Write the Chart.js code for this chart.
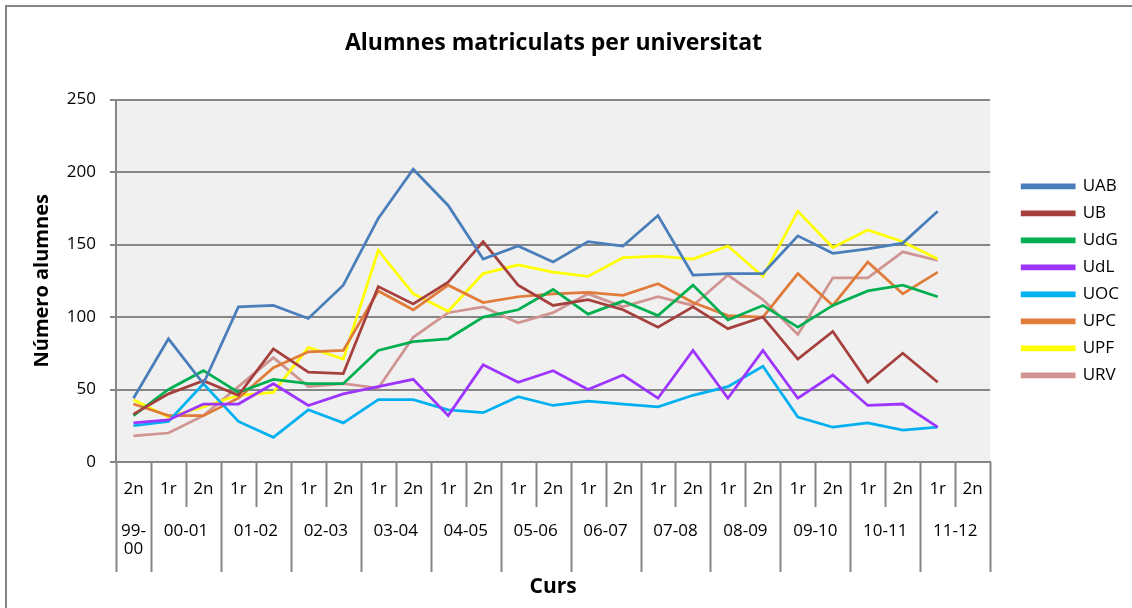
<!DOCTYPE html>
<html>
<head>
<meta charset="utf-8">
<script src="https://cdn.jsdelivr.net/npm/chart.js@4"></script>
<style>
  html, body { margin: 0; padding: 0; background: #fff; }
  #wrap { position: relative; width: 1132px; height: 608px; }
</style>
</head>
<body>
<div id="wrap"><canvas id="chart" width="1132" height="608"></canvas></div>
<script>
// --- data ---
const terms = ['2n', '1r', '2n', '1r', '2n', '1r', '2n', '1r', '2n', '1r', '2n', '1r', '2n',
               '1r', '2n', '1r', '2n', '1r', '2n', '1r', '2n', '1r', '2n', '1r', '2n'];
const courses = ['99-00', '00-01', '01-02', '02-03', '03-04', '04-05', '05-06',
                 '06-07', '07-08', '08-09', '09-10', '10-11', '11-12'];
const yTicks = [0, 50, 100, 150, 200, 250];

const uab = [44, 85, 54, 107, 108, 99, 122, 168, 202, 177, 140, 149, 138, 152, 149, 170, 129, 130, 130, 156, 144, 147, 151, 173, null];
const ub  = [33, 47, 56, 46, 78, 62, 61, 121, 109, 124, 152, 122, 108, 112, 105, 93, 107, 92, 100, 71, 90, 55, 75, 55, null];
const udg = [32, 50, 63, 48, 57, 54, 54, 77, 83, 85, 100, 105, 119, 102, 111, 101, 122, 98, 108, 93, 108, 118, 122, 114, null];
const udl = [27, 29, 40, 40, 54, 39, 47, 52, 57, 32, 67, 55, 63, 50, 60, 44, 77, 44, 77, 44, 60, 39, 40, 24, null];
const uoc = [25, 28, 54, 28, 17, 36, 27, 43, 43, 36, 34, 45, 39, 42, 40, 38, 46, 52, 66, 31, 24, 27, 22, 24, null];
const upc = [40, 32, 32, 44, 65, 76, 77, 118, 105, 122, 110, 114, 116, 117, 115, 123, 110, 101, 100, 130, 108, 138, 116, 131, null];
const upf = [43, 31, 38, 46, 48, 79, 71, 146, 116, 104, 130, 136, 131, 128, 141, 142, 140, 149, 128, 173, 148, 160, 152, 140, null];
const urv = [18, 20, 32, 52, 72, 52, 54, 51, 86, 103, 107, 96, 103, 116, 107, 114, 108, 129, 112, 88, 127, 127, 145, 139, null];

const FONT = "'Open Sans', 'Liberation Sans', sans-serif";

function series(label, data, color) {
    return {
        label: label,
        data: data,
        borderColor: color,
        backgroundColor: color,
        borderWidth: 2.75,
        pointRadius: 0,
        tension: 0,
        spanGaps: false
    };
}

// draws the two-row category axis (term / course) and the frame
const categoryAxis = {
    id: 'categoryAxis',
    afterLayout(chart) {
        // legend sits a bit further away from the plot than Chart.js puts it
        chart.legend.left += 22;
        chart.legend.right += 22;
    },
    beforeDraw(chart) {
        const { ctx, chartArea: a } = chart;
        ctx.save();
        ctx.fillStyle = '#f0f0f0';
        ctx.fillRect(a.left, a.top, a.right - a.left, a.bottom - a.top);
        // outer frame (top + left only, image is cropped)
        ctx.strokeStyle = '#868686';
        ctx.lineWidth = 2;
        ctx.beginPath();
        ctx.moveTo(6, 608);
        ctx.lineTo(6, 6);
        ctx.lineTo(1132, 6);
        ctx.stroke();
        ctx.restore();
    },
    afterDraw(chart) {
        const { ctx, chartArea: a } = chart;
        const x = chart.scales.x;
        const n = terms.length;
        const bound = (i) => {
            if (i <= 0) return a.left;
            if (i >= n) return a.right;
            return (x.getPixelForValue(i - 1) + x.getPixelForValue(i)) / 2;
        };
        ctx.save();
        ctx.strokeStyle = '#868686';
        ctx.lineWidth = 2;
        for (let i = 0; i <= n; i++) {
            // group boundary after cat 0 and every second one after that
            const isGroup = i === 0 || i === n || (i % 2 === 1);
            const bx = Math.round(bound(i)) + 0.5;
            ctx.beginPath();
            ctx.moveTo(bx, a.bottom);
            ctx.lineTo(bx, isGroup ? a.bottom + 110 : a.bottom + 45);
            ctx.stroke();
        }
        ctx.fillStyle = '#000';
        ctx.font = '17px ' + FONT;
        ctx.textAlign = 'center';
        ctx.textBaseline = 'middle';
        terms.forEach((t, i) => ctx.fillText(t, x.getPixelForValue(i), a.bottom + 27));
        courses.forEach((c, k) => {
            if (k === 0) {
                const cx = x.getPixelForValue(0);
                ctx.fillText('99-', cx, a.bottom + 69);
                ctx.fillText('00', cx, a.bottom + 87);
            } else {
                const cx = (x.getPixelForValue(2 * k - 1) + x.getPixelForValue(2 * k)) / 2;
                ctx.fillText(c, cx, a.bottom + 69);
            }
        });
        ctx.font = 'bold 21px ' + FONT;
        ctx.fillText('Curs', (a.left + a.right) / 2, a.bottom + 125);
        ctx.restore();
    }
};

const ctx = document.getElementById('chart').getContext('2d');
const chart = new Chart(ctx, {
    type: 'line',
    data: {
        labels: terms,
        datasets: [
            series('UAB', uab, '#4a7ebb'),
            series('UB', ub, '#a5403d'),
            series('UdG', udg, '#00b050'),
            series('UdL', udl, '#9d35ff'),
            series('UOC', uoc, '#00b0f0'),
            series('UPC', upc, '#e07b39'),
            series('UPF', upf, '#ffff00'),
            series('URV', urv, '#d09593')
        ]
    },
    options: {
        responsive: false,
        animation: false,
        layout: { padding: { left: 0, right: 25, top: 0, bottom: 0 } },
        plugins: {
            title: {
                display: true,
                text: 'Alumnes matriculats per universitat',
                color: '#000',
                font: { family: FONT, size: 23, weight: 'bold' },
                padding: { top: 30, bottom: 42 }
            },
            legend: {
                position: 'right',
                fullSize: false,
                labels: {
                    color: '#000',
                    font: { family: FONT, size: 17 },
                    boxWidth: 52,
                    boxHeight: 3,
                    padding: 10
                }
            },
            tooltip: { enabled: false }
        },
        scales: {
            x: {
                offset: true,
                grid: { display: false },
                border: { display: true, color: '#868686', width: 2 },
                ticks: { display: false },
                afterFit: (scale) => { scale.height = 146; }
            },
            y: {
                min: 0,
                max: 250,
                afterBuildTicks: (scale) => { scale.ticks = yTicks.map(v => ({ value: v })); },
                afterFit: (scale) => { scale.width = 116; },
                grid: { color: '#868686', lineWidth: 2, tickLength: 6 },
                border: { display: true, color: '#868686', width: 2 },
                ticks: { color: '#000', font: { family: FONT, size: 17 }, padding: 14 },
                title: {
                    display: true,
                    text: 'Número alumnes',
                    color: '#000',
                    font: { family: FONT, size: 20, weight: 'bold' },
                    padding: { top: 30, bottom: 0 }
                }
            }
        }
    },
    plugins: [categoryAxis]
});
</script>
</body>
</html>
